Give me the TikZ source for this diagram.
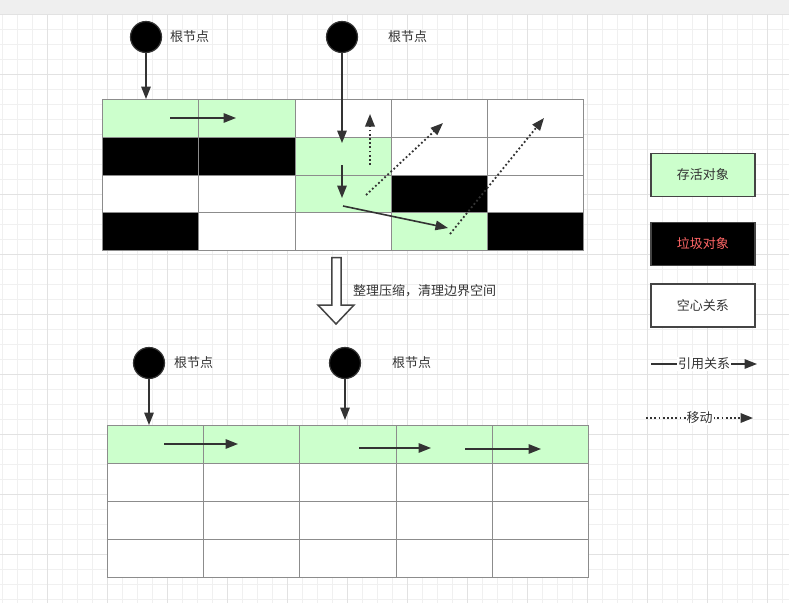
\documentclass[tikz,border=0pt]{standalone}
\usepackage{fontspec}
\newfontfamily\cjk{Noto Sans CJK SC}
\usetikzlibrary{arrows.meta}
\definecolor{live}{HTML}{CCFFCC}
\definecolor{ink}{HTML}{333333}
\definecolor{boxline}{HTML}{444444}
\definecolor{cellline}{HTML}{8C8C8C}
\definecolor{gridmin}{HTML}{F0F0F0}
\definecolor{gridmaj}{HTML}{E2E2E2}
\definecolor{band}{HTML}{EFEFEF}
\definecolor{redtxt}{HTML}{FF6666}
\begin{document}
\begin{tikzpicture}[x=1pt,y=-1pt,
  cellA/.style={draw=cellline, line width=1pt, minimum width=96.25pt, minimum height=37.8pt, inner sep=0pt, anchor=north west},
  cellB/.style={draw=cellline, line width=1pt, minimum width=96.3pt, minimum height=37.9pt, inner sep=0pt, anchor=north west},
  root/.style={circle, fill=black, draw=ink, line width=1.2pt, minimum size=31pt, inner sep=0pt},
  lbl/.style={font=\cjk\fontsize{13}{15}\selectfont, text=ink, inner sep=2pt},
  ref/.style={draw=ink, line width=1.6pt, -{Triangle[length=12.5pt,width=9.5pt]}},
  move/.style={ref, line width=1.8pt, dash pattern=on 1.8pt off 2.4pt},
  legendbox/.style={draw=boxline, line width=1.8pt, minimum width=104pt, minimum height=43pt, inner sep=0pt, font=\cjk\fontsize{13}{15}\selectfont, text=ink}
]
\useasboundingbox (0,0) rectangle (789,603);
% background and grid
\fill[white] (0,0) rectangle (789,603);
\foreach \x in {2.5,17.5,...,789} \draw[gridmin, line width=1pt] (\x,14) -- (\x,603);
\foreach \y in {29,44,...,603} \draw[gridmin, line width=1pt] (0,\y) -- (789,\y);
\foreach \x in {47.5,107.5,...,789} \draw[gridmaj, line width=1pt] (\x,14) -- (\x,603);
\foreach \y in {74,134,...,603} \draw[gridmaj, line width=1pt] (0,\y) -- (789,\y);
\fill[band] (0,0) rectangle (789,14);
\draw[gridmaj, line width=1pt] (0,14) -- (789,14);

% top table
\foreach \r/\row in {0/{live,live,white,white,white},1/{black,black,live,white,white},2/{white,white,live,black,white},3/{black,white,white,live,black}}{
  \foreach \col [count=\c from 0] in \row {
    \node[cellA, fill=\col] (a-\r-\c) at ({102+96.25*\c},{99+37.8*\r}) {};
  }
}
% bottom table
\foreach \r/\row in {0/{live,live,live,live,live},1/{white,white,white,white,white},2/{white,white,white,white,white},3/{white,white,white,white,white}}{
  \foreach \col [count=\c from 0] in \row {
    \node[cellB, fill=\col] (b-\r-\c) at ({106.7+96.3*\c},{425+37.9*\r}) {};
  }
}

% roots top
\node[root] (r1) at (146,37) {};
\node[root] (r2) at (342,37) {};
\node[lbl, anchor=west] (l1) at (168,37) {根节点};
\node[lbl, anchor=west] (l2) at (386,37) {根节点};
\coordinate (t1) at (146,99);
\coordinate (t2) at (342,143);
\draw[ref] (r1) -- (t1);
\draw[ref] (r2) -- (t2);

% moves inside top table
\coordinate (p1s) at (170,118); \coordinate (p1e) at (236,118);
\coordinate (p2s) at (342,165); \coordinate (p2e) at (342,198);
\coordinate (p3s) at (343,206); \coordinate (p3e) at (448,228);
\draw[ref] (p1s) -- (p1e);
\draw[ref] (p2s) -- (p2e);
\draw[ref] (p3s) -- (p3e);
\coordinate (m1s) at (370,165); \coordinate (m1e) at (370,114);
\coordinate (m2s) at (366,195); \coordinate (m2e) at (443,123);
\coordinate (m3s) at (450,234); \coordinate (m3e) at (544,118);
\draw[move] (m1s) -- (m1e);
\draw[move] (m2s) -- (m2e);
\draw[move] (m3s) -- (m3e);

% hollow arrow
\draw[draw=boxline, fill=white, line width=1.5pt, line join=miter]
  (331.8,257.5) -- (341.2,257.5) -- (341.2,305) -- (354,305) -- (336,324) -- (318,305) -- (331.8,305) -- cycle;
\node[lbl, anchor=west] (note) at (351,291) {整理压缩，清理边界空间};

% roots bottom
\node[root] (r3) at (149,363) {};
\node[root] (r4) at (345,363) {};
\node[lbl, anchor=west] (l3) at (172,363) {根节点};
\node[lbl, anchor=west] (l4) at (390,363) {根节点};
\coordinate (t3) at (149,425);
\coordinate (t4) at (345,420);
\draw[ref] (r3) -- (t3);
\draw[ref] (r4) -- (t4);
\coordinate (q1s) at (164,444); \coordinate (q1e) at (238,444);
\coordinate (q2s) at (359,448); \coordinate (q2e) at (431,448);
\coordinate (q3s) at (465,449); \coordinate (q3e) at (541,449);
\draw[ref] (q1s) -- (q1e);
\draw[ref] (q2s) -- (q2e);
\draw[ref] (q3s) -- (q3e);

% legend
\node[legendbox, fill=live] (k1) at (702.9,175) {存活对象};
\node[legendbox, fill=black, text=redtxt] (k2) at (702.9,244) {垃圾对象};
\node[legendbox, fill=white] (k3) at (702.9,305.8) {空心关系};
\coordinate (k4s) at (651,364); \coordinate (k4e) at (757,364);
\draw[ref] (k4s) -- node[lbl, fill=white, inner sep=1pt] (k4) {引用关系} (k4e);
\coordinate (k5s) at (646,418); \coordinate (k5e) at (753,418);
\draw[move] (k5s) -- node[lbl, fill=white, inner sep=1pt] (k5) {移动} (k5e);
\end{tikzpicture}
\end{document}
